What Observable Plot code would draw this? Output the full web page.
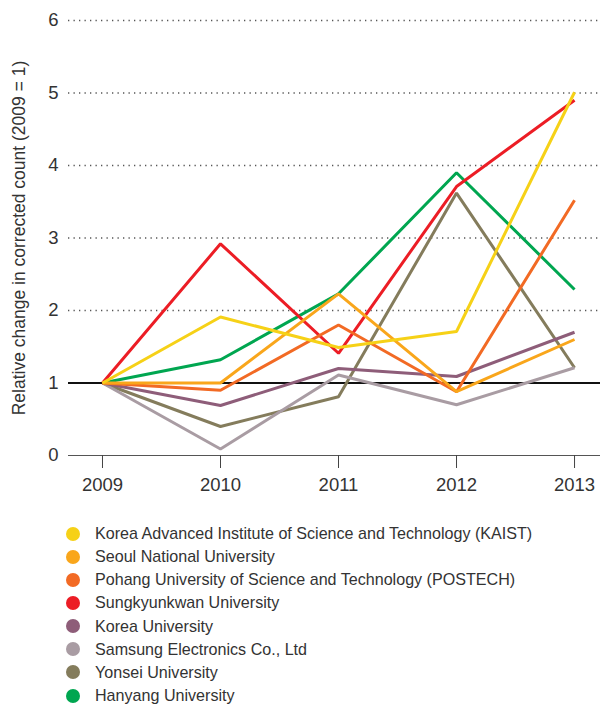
<!DOCTYPE html>
<html>
<head>
<meta charset="utf-8">
<script src="https://cdn.jsdelivr.net/npm/d3@7"></script>
<script src="https://cdn.jsdelivr.net/npm/@observablehq/plot@0.6"></script>
<style>
  body { margin: 0; background: #fff; font-family: "Liberation Sans", Arial, sans-serif; color: #333; }
  #chart { width: 600px; height: 500px; }
  .legend { margin: 22px 0 0 66px; padding: 0; list-style: none; }
  .legend li { display: flex; align-items: center; height: 23.15px; font-size: 16.1px; color: #333; white-space: nowrap; }
  .legend .sw { width: 14px; height: 14px; border-radius: 50%; margin-right: 15px; flex: none; }
</style>
</head>
<body>
<div id="chart"></div>
<script>
const years = [2009, 2010, 2011, 2012, 2013];
const institutions = [
  "Korea Advanced Institute of Science and Technology (KAIST)",
  "Seoul National University",
  "Pohang University of Science and Technology (POSTECH)",
  "Sungkyunkwan University",
  "Korea University",
  "Samsung Electronics Co., Ltd",
  "Yonsei University",
  "Hanyang University"
];
const colors = ["#f6d117", "#f9a61b", "#f26a24", "#ec1d25", "#8e5d79", "#a99ca3", "#847c5c", "#00a650"];
const kaist        = [1, 1.91, 1.49, 1.71, 5.01];
const seoul        = [1, 1.0, 2.23, 0.88, 1.6];
const postech      = [1, 0.9, 1.8, 0.88, 3.52];
const sungkyunkwan = [1, 2.92, 1.41, 3.71, 4.9];
const korea        = [1, 0.69, 1.2, 1.09, 1.7];
const samsung      = [1, 0.09, 1.11, 0.7, 1.21];
const yonsei       = [1, 0.4, 0.81, 3.62, 1.21];
const hanyang      = [1, 1.32, 2.23, 3.9, 2.29];
const series = [kaist, seoul, postech, sungkyunkwan, korea, samsung, yonsei, hanyang];
const yTicks = [0, 1, 2, 3, 4, 5, 6];
const gridTicks = [2, 3, 4, 5, 6];

const data = [];
// draw in reverse so KAIST ends on top
for (let i = series.length - 1; i >= 0; i--) {
  years.forEach((yr, j) => data.push({inst: institutions[i], year: yr, value: series[i][j]}));
}

const chart = Plot.plot({
  width: 600,
  height: 500,
  marginLeft: 68,
  marginRight: 0,
  marginTop: 20,
  marginBottom: 45,
  style: { fontFamily: "Liberation Sans, Arial, sans-serif", fontSize: "18px", color: "#333", background: "#fff", overflow: "visible" },
  x: { domain: [2008.712, 2013.22], ticks: years, tickFormat: d => String(d) },
  y: { domain: [0, 6], ticks: yTicks, tickFormat: d => String(d) },
  color: { domain: institutions, range: colors },
  marks: [
    Plot.ruleY(gridTicks, { stroke: "#555", strokeWidth: 1.3, strokeDasharray: "1.3,4.2" }),
    Plot.ruleY([0], { stroke: "#555", strokeWidth: 1.2 }),
    Plot.axisX({ ticks: years, tickFormat: d => String(d), tickSize: 13, tickPadding: 9, stroke: "#444", strokeOpacity: 1, label: null }),
    Plot.axisY({ ticks: yTicks, tickFormat: d => String(d), tickSize: 0, tickPadding: 10, label: "Relative change in corrected count (2009 = 1)", labelAnchor: "center", labelArrow: "none", labelOffset: 56 }),
    Plot.ruleY([1], { stroke: "#111", strokeWidth: 2 }),
    Plot.line(data, { x: "year", y: "value", z: "inst", stroke: "inst", strokeWidth: 3, strokeLinejoin: "miter", strokeLinecap: "butt" })
  ]
});
document.getElementById("chart").appendChild(chart);
chart.querySelectorAll("g[aria-label='x-axis tick label'] text, g[aria-label='y-axis tick label'] text").forEach(t => {
  t.setAttribute("font-size", "18.5");
});
chart.querySelectorAll("g[aria-label='x-axis tick label'], g[aria-label='y-axis tick label']").forEach(g => g.setAttribute("font-size", "18.5"));
chart.querySelectorAll("g[aria-label='y-axis label'], g[aria-label='y-axis label'] text").forEach(t => t.setAttribute("font-size", "17.5"));
chart.setAttribute("font-size", "18.5");
chart.style.fill = "#333";

const ul = document.createElement("ul");
ul.className = "legend";
institutions.forEach((name, i) => {
  const li = document.createElement("li");
  const sw = document.createElement("span");
  sw.className = "sw";
  sw.style.background = colors[i];
  li.appendChild(sw);
  li.appendChild(document.createTextNode(name));
  ul.appendChild(li);
});
document.body.appendChild(ul);
</script>
</body>
</html>
